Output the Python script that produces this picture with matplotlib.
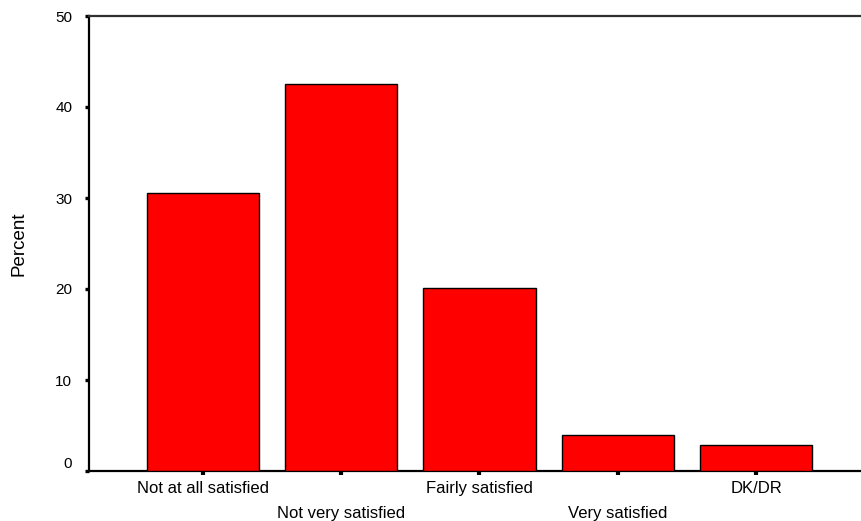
import matplotlib

matplotlib.use("Agg")
import matplotlib.pyplot as plt

# --- данные (проценты)
categories = ["Not at all satisfied", "Not very satisfied", "Fairly satisfied",
              "Very satisfied", "DK/DR"]
percent = [30.5, 42.5, 20.1, 4.0, 2.9]
y_ticks = [0, 10, 20, 30, 40, 50]

RED = "#FF0000"
FONT = "Liberation Sans"
W, H = 861, 521

fig = plt.figure(figsize=(W / 100, H / 100), dpi=100)
# оси уходят за правый край картинки, как в оригинале SPSS
ax = fig.add_axes([89 / W, 50 / H, 781 / W, 455 / H])

x = list(range(len(categories)))
ax.bar(x, percent, width=0.81, color=RED, edgecolor="black", linewidth=1.0, zorder=3)

ax.set_xlim(-0.823, 4.823)
ax.set_ylim(0, 50)
ax.set_yticks(y_ticks)
ax.set_yticklabels([str(t) for t in y_ticks], fontsize=11, family=FONT)
ax.set_xticks(x)
ax.set_xticklabels([""] * len(x))

for s in ("left", "bottom", "top"):
    ax.spines[s].set_linewidth(1.6)
    ax.spines[s].set_color("black")
ax.spines["top"].set_color("#303030")
ax.spines["right"].set_visible(False)

ax.tick_params(axis="y", direction="out", length=3, width=2.4, pad=9)
ax.tick_params(axis="x", direction="out", length=3, width=3.0)

# ноль у SPSS чуть приподнят
lbl0 = ax.get_yticklabels()[0]
lbl0.set_va("bottom")

# подписи категорий в два ряда
for i, name in enumerate(categories):
    off = -10 if i % 2 == 0 else -35
    ax.annotate(name, xy=(i, 0), xycoords=("data", "axes fraction"),
                xytext=(0, off), textcoords="offset pixels",
                ha="center", va="top", fontsize=12, family=FONT)

ax.set_ylabel("Percent", fontsize=13.5, family=FONT)
ax.yaxis.set_label_coords(-0.079, 0.5)

fig.savefig("out.png", dpi=100)
plt.close(fig)
print("out.png")
